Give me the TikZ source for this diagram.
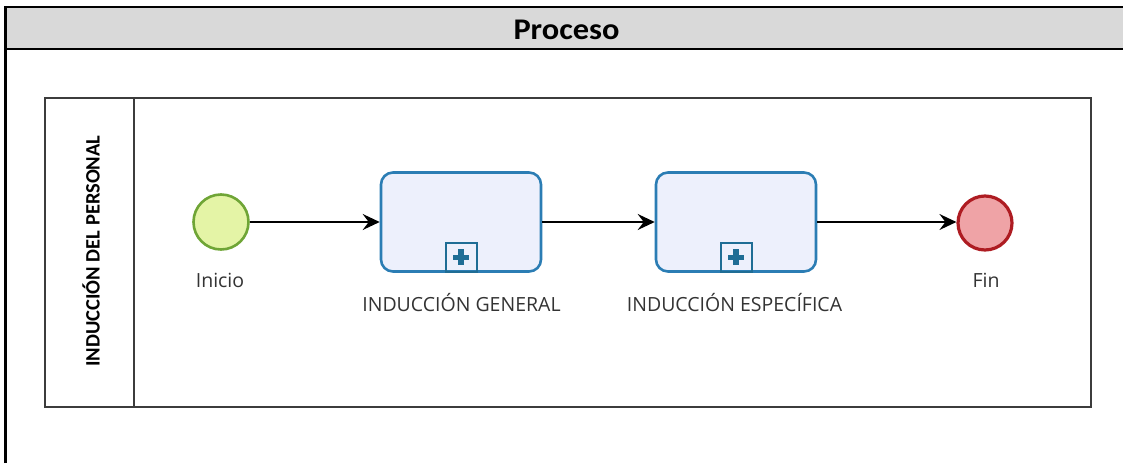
\documentclass[tikz,border=0pt]{standalone}
\usepackage{fontspec}
\setmainfont{Open Sans}
\newfontfamily\headfont{Carlito}
\usetikzlibrary{arrows.meta}
\definecolor{headgray}{HTML}{D9D9D9}
\definecolor{poolline}{HTML}{3C3C3C}
\definecolor{startfill}{HTML}{E4F4A6}
\definecolor{startline}{HTML}{6FA536}
\definecolor{endfill}{HTML}{EFA3A6}
\definecolor{endline}{HTML}{AE1C22}
\definecolor{taskfill}{HTML}{EDF0FC}
\definecolor{taskline}{HTML}{2B7DB4}
\definecolor{markline}{HTML}{1F6D95}
\definecolor{labeltext}{HTML}{333333}
\tikzset{
  startev/.style={circle, draw=startline, fill=startfill, line width=2.6pt, minimum size=55pt, inner sep=0pt},
  endev/.style={circle, draw=endline, fill=endfill, line width=3.2pt, minimum size=54pt, inner sep=0pt},
  task/.style={rectangle, rounded corners=12pt, draw=taskline, fill=taskfill, line width=2.6pt, minimum width=160pt, minimum height=99pt, inner sep=0pt},
  marker/.style={rectangle, draw=markline, line width=2pt, minimum width=31pt, minimum height=29pt, inner sep=0pt, anchor=south},
  flow/.style={draw=black, line width=1.7pt, -{Stealth[length=17pt, width=16pt, inset=6pt]}},
  lbl/.style={text=labeltext, font=\fontsize{19.5}{22}\selectfont, inner sep=0pt},
}
\begin{document}
\begin{tikzpicture}[x=1pt, y=-1pt]
\useasboundingbox (0,0) rectangle (1123,463);
% title band
\fill[headgray] (5.5,7) rectangle (1123,49);
\draw[line width=2.8pt] (5.5,463) -- (5.5,7) -- (1123,7);
\draw[line width=2.8pt] (5.5,49) -- (1123,49);
\node[font=\headfont\bfseries\fontsize{30}{33}\selectfont, inner sep=0pt] (title) at (566.5,29.5) {\scalebox{1.08}[1]{Proceso}};
% pool and lane
\draw[poolline, line width=1.6pt] (45,98) rectangle (1091,407);
\draw[poolline, line width=1.6pt] (134,98) -- (134,407);
\node[rotate=90, font=\headfont\bfseries\fontsize{20.5}{23}\selectfont, inner sep=0pt] (lane) at (91,251) {INDUCCIÓN DEL PERSONAL};
% events and tasks
\node[startev] (start) at (221,222) {};
\node[task] (t1) at (461,222) {};
\node[task] (t2) at (736,222) {};
\node[endev] (end) at (985,223) {};
% collapsed sub-process markers
\foreach \t in {t1,t2}{
  \node[marker] (\t m) at (\t.south) {};
  \fill[markline] ([xshift=-2.6pt, yshift=-8pt]\t m.center) rectangle ([xshift=2.6pt, yshift=8pt]\t m.center);
  \fill[markline] ([xshift=-8pt, yshift=-2.6pt]\t m.center) rectangle ([xshift=8pt, yshift=2.6pt]\t m.center);
}
% labels
\node[lbl] (ls) at (220,280) {Inicio};
\node[lbl] (l1) at (461.5,303) {INDUCCIÓN GENERAL};
\node[lbl] (l2) at (734.5,303) {INDUCCIÓN ESPECÍFICA};
\node[lbl] (le) at (986,280) {Fin};
% sequence flows
\draw[flow] (start) -- (t1);
\draw[flow] (t1) -- (t2);
\draw[flow] (t2.east) -- (end.west |- t2.east);
\end{tikzpicture}
\end{document}
